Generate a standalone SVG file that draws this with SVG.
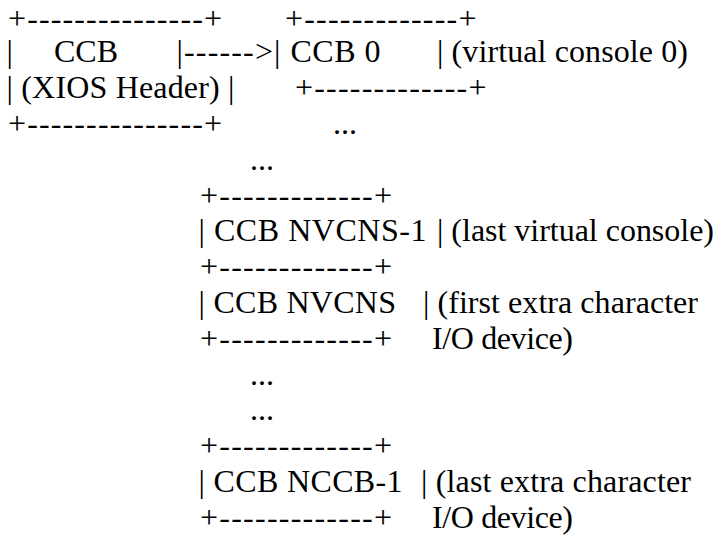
<svg xmlns="http://www.w3.org/2000/svg" width="718" height="535" viewBox="0 0 718 535">
<style>
text{font-family:'Liberation Serif','Times New Roman',serif;font-size:32px;fill:#000;white-space:pre}
</style>
<rect width="718" height="535" fill="#fff"/>
<g id="xios">
<text x="8" y="28.8" textLength="214" lengthAdjust="spacing">+---------------+</text>
<text x="6.5" y="62.3">|</text>
<text x="54" y="62.3" textLength="64" lengthAdjust="spacing">CCB</text>
<text x="6.5" y="98.1" textLength="228" lengthAdjust="spacing">| (XIOS Header) |</text>
<text x="8" y="133.9" textLength="214" lengthAdjust="spacing">+---------------+</text>
</g>
<g id="connectors">
<text x="176.5" y="62.3" textLength="104" lengthAdjust="spacing">|------&gt;|</text>
<text x="333" y="133.9">...</text>
<text x="250" y="169.7">...</text>
<text x="250" y="384.5">...</text>
<text x="250" y="420.3">...</text>
</g>
<g id="ccb0">
<text x="285" y="28.8" textLength="191.5" lengthAdjust="spacing">+-------------+</text>
<text x="290.5" y="62.3" textLength="90" lengthAdjust="spacing">CCB 0</text>
<text x="437" y="62.3" textLength="251" lengthAdjust="spacing">| (virtual console 0)</text>
<text x="295" y="98.1" textLength="191.5" lengthAdjust="spacing">+-------------+</text>
</g>
<g id="ccb-nvcns-1">
<text x="200" y="205.5" textLength="192" lengthAdjust="spacing">+-------------+</text>
<text x="198.5" y="241.3" textLength="228" lengthAdjust="spacing">| CCB NVCNS-1</text>
<text x="437" y="241.3" textLength="277" lengthAdjust="spacing">| (last virtual console)</text>
<text x="200" y="277.1" textLength="192" lengthAdjust="spacing">+-------------+</text>
</g>
<g id="ccb-nvcns">
<text x="198.5" y="312.9" textLength="197.5" lengthAdjust="spacing">| CCB NVCNS</text>
<text x="423" y="312.9" textLength="275" lengthAdjust="spacing">| (first extra character</text>
<text x="200" y="348.7" textLength="192" lengthAdjust="spacing">+-------------+</text>
<text x="432" y="348.7" textLength="141" lengthAdjust="spacing">I/O device)</text>
</g>
<g id="ccb-nccb-1">
<text x="200" y="456.1" textLength="192" lengthAdjust="spacing">+-------------+</text>
<text x="198.5" y="491.9" textLength="204" lengthAdjust="spacing">| CCB NCCB-1</text>
<text x="421" y="491.9" textLength="270" lengthAdjust="spacing">| (last extra character</text>
<text x="200" y="527.7" textLength="192" lengthAdjust="spacing">+-------------+</text>
<text x="432" y="527.7" textLength="141" lengthAdjust="spacing">I/O device)</text>
</g>
</svg>
